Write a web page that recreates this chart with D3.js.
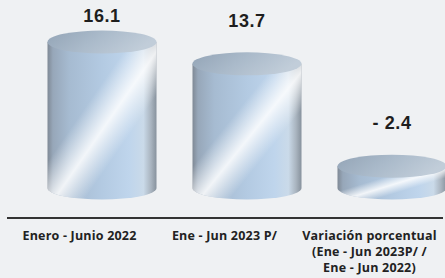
<!DOCTYPE html>
<html>
<head>
<meta charset="utf-8">
<script src="https://cdn.jsdelivr.net/npm/d3@7"></script>
<style>
  html, body { margin: 0; padding: 0; background: #eff1f3; }
  svg { display: block; }
</style>
</head>
<body>
<svg id="chart"></svg>
<script>
// chart data
var categories = ["Enero - Junio 2022", "Ene - Jun 2023 P/", "Variación porcentual|(Ene - Jun 2023P/ /|Ene - Jun 2022)"];
var values = [16.1, 13.7, -2.4];

const WIDTH = 445;
const HEIGHT = 278;

var svg = d3.select("#chart").attr("width", WIDTH).attr("height", HEIGHT);

var x = d3.scaleBand().domain(d3.range(categories.length)).range([7, 442]).padding(0);
// cylinders drawn with their absolute size, like the original chart
var y = d3.scaleLinear().domain([0, 16.1]).range([188, 42]);

const CYL_W = 109;
const CYL_SHIFT = 22.5; // cylinders sit a bit right of their labels
const RY = 11.5;

var defs = svg.append("defs");

var sideGrad = defs.append("linearGradient").attr("id", "sideGrad")
  .attr("x1", 0).attr("y1", 0).attr("x2", 1).attr("y2", 0);
[
  [0, "#7f8995"], [0.05, "#97a7b9"], [0.2, "#a6bbd1"], [0.5, "#b3cae2"],
  [0.75, "#bfd5ec"], [0.88, "#cadae9"], [0.95, "#a9b4bf"], [1, "#87929d"]
].forEach((s) => sideGrad.append("stop").attr("offset", s[0]).attr("stop-color", s[1]));

var shineGrad = defs.append("linearGradient").attr("id", "shineGrad")
  .attr("x1", 0).attr("y1", 0).attr("x2", 1).attr("y2", 1);
[
  [0, 0], [0.38, 0], [0.53, 0.85], [0.67, 0], [1, 0]
].forEach((s) => shineGrad.append("stop").attr("offset", s[0]).attr("stop-color", "#ffffff").attr("stop-opacity", s[1]));

var topGrad = defs.append("linearGradient").attr("id", "topGrad")
  .attr("x1", 0).attr("y1", 0).attr("x2", 1).attr("y2", 0.3);
[
  [0, "#93a4b6"], [0.5, "#aabaca"], [1, "#c1cdd9"]
].forEach((s) => topGrad.append("stop").attr("offset", s[0]).attr("stop-color", s[1]));

function sidePath(d, i) {
  var x0 = x(i) + x.bandwidth() / 2 + CYL_SHIFT - CYL_W / 2;
  var x1 = x0 + CYL_W;
  var yt = y(Math.abs(d));
  var yb = y(0);
  return "M" + x0 + "," + yt + "L" + x0 + "," + yb +
    "A" + CYL_W / 2 + "," + RY + " 0 0 0 " + x1 + "," + yb +
    "L" + x1 + "," + yt + "Z";
}

var cyl = svg.append("g").attr("class", "cylinders")
  .selectAll("g")
  .data(values)
  .enter()
  .append("g");

cyl.append("path").attr("d", sidePath).attr("fill", "url(#sideGrad)");
cyl.append("path").attr("d", sidePath).attr("fill", "url(#shineGrad)");
cyl.append("ellipse")
  .attr("cx", (d, i) => x(i) + x.bandwidth() / 2 + CYL_SHIFT)
  .attr("cy", (d) => y(Math.abs(d)))
  .attr("rx", CYL_W / 2)
  .attr("ry", RY)
  .attr("fill", "url(#topGrad)");

// value labels
svg.append("g")
  .selectAll("text")
  .data(values)
  .enter()
  .append("text")
  .attr("x", (d, i) => x(i) + x.bandwidth() / 2 + CYL_SHIFT)
  .attr("y", (d) => Math.max(21.5, y(Math.abs(d)) - 37))
  .attr("text-anchor", "middle")
  .style("font-family", "'Liberation Sans', Arial, sans-serif")
  .style("font-weight", "bold")
  .style("font-size", "18px")
  .style("letter-spacing", "0.6px")
  .style("fill", "#1e1e1e")
  .text((d) => d < 0 ? "- " + Math.abs(d).toFixed(1) : d.toFixed(1));

// baseline
svg.append("line")
  .attr("x1", x.range()[0]).attr("x2", x.range()[1] + 1)
  .attr("y1", 218).attr("y2", 218)
  .attr("stroke", "#333").attr("stroke-width", 2);

// category labels
var cat = svg.append("g")
  .selectAll("text")
  .data(categories)
  .enter()
  .append("text")
  .attr("x", (d, i) => x(i) + x.bandwidth() / 2)
  .attr("y", 240)
  .attr("text-anchor", "middle")
  .style("font-family", "'Open Sans', sans-serif")
  .style("font-weight", "bold")
  .style("font-size", "12.5px")
  .style("letter-spacing", "0.2px")
  .style("fill", "#222");

cat.selectAll("tspan")
  .data((d) => d.split("|"))
  .enter()
  .append("tspan")
  .attr("x", function () { return d3.select(this.parentNode).attr("x"); })
  .attr("dy", (d, i) => i == 0 ? 0 : 16)
  .text((d) => d);
</script>
</body>
</html>
